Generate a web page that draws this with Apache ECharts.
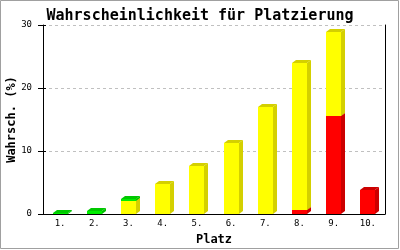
<!DOCTYPE html>
<html><head><meta charset="utf-8">
<script src="https://cdn.jsdelivr.net/npm/echarts@6/dist/echarts.min.js"></script>
<style>html,body{margin:0;padding:0;background:#fff}#c{width:400px;height:250px}</style>
</head><body><div id="c"></div>
<script>
var categories = ['1.','2.','3.','4.','5.','6.','7.','8.','9.','10.'];
var redValues = [0,0,0,0,0,0,0,0.6,15.5,3.8];
var yellowValues = [0,0,2.1,4.8,7.6,11.3,17.0,23.4,13.4,0];
var greenValues = [0.15,0.5,0.3,0,0,0,0,0,0,0];
var yTicks = [0,10,20,30];

var stackOrder = [redValues, yellowValues, greenValues];
function buildData(k){
  return categories.map(function(c,i){
    var base = 0;
    for (var j=0;j<k;j++) base += stackOrder[j][i];
    return [i, base, stackOrder[k][i]];
  });
}
function makeRender(front, side, top){
  return function(params, api){
    var idx = api.value(0), base = api.value(1), val = api.value(2);
    if (!(val > 0)) return;
    var p0 = api.coord([idx, base]);
    var p1 = api.coord([idx, base + val]);
    var w = 15, dx = 4, dy = 3;
    var l = Math.round(p0[0] - w/2), r = l + w;
    var yb = Math.round(p0[1]), yt = Math.round(p1[1]);
    if (yb - yt < 1) yt = yb - 1;
    return {type:'group', children:[
      {type:'rect', shape:{x:l, y:yt, width:w, height:yb-yt}, style:{fill:front}},
      {type:'polygon', shape:{points:[[r,yb],[r+dx,yb-dy],[r+dx,yt-dy],[r,yt]]}, style:{fill:side}},
      {type:'polygon', shape:{points:[[l,yt],[l+dx,yt-dy],[r+dx,yt-dy],[r,yt]]}, style:{fill:top}}
    ]};
  };
}
var mono = 'DejaVu Sans Mono';
var chart = echarts.init(document.getElementById('c'), null, {renderer:'canvas'});
chart.setOption({
  animation:false,
  backgroundColor:'#fff',
  title:{text:'Wahrscheinlichkeit für Platzierung', left:'center', top:4,
    textStyle:{fontFamily:mono, fontWeight:'bold', fontSize:15, color:'#000'}},
  grid:{left:43, right:15, top:25, bottom:36, containLabel:false, outerBoundsMode:'none'},
  xAxis:{type:'category', data:categories, boundaryGap:true,
    name:'Platz', nameLocation:'middle', nameGap:20, nameMoveOverlap:false,
    nameTextStyle:{fontFamily:mono, fontWeight:'bold', fontSize:12, color:'#000'},
    axisLine:{lineStyle:{color:'#000', width:1}}, axisTick:{show:false},
    axisLabel:{fontFamily:mono, fontSize:9, color:'#000', margin:5, interval:0}},
  yAxis:[{type:'value', min:yTicks[0], max:yTicks[yTicks.length-1], interval:10,
    name:'Wahrsch. (%)', nameLocation:'middle', nameGap:25, nameMoveOverlap:false,
    nameTextStyle:{fontFamily:mono, fontWeight:'bold', fontSize:12, color:'#000'},
    axisLine:{show:true, lineStyle:{color:'#000', width:1}},
    axisTick:{show:true, length:5, lineStyle:{color:'#000'}},
    axisLabel:{fontFamily:mono, fontSize:9, color:'#000', margin:11},
    splitLine:{show:true, lineStyle:{color:'#c0c0c0', type:[3,3], width:1}}},
   {type:'value', min:yTicks[0], max:yTicks[yTicks.length-1], interval:10, position:'left', offset:0,
    axisLine:{show:false}, axisTick:{show:true, inside:true, length:3, lineStyle:{color:'#000'}},
    axisLabel:{show:false}, splitLine:{show:false}},
   {type:'value', min:yTicks[0], max:yTicks[yTicks.length-1], interval:10, position:'right', offset:0,
    axisLine:{show:true, lineStyle:{color:'#000', width:1}}, axisTick:{show:false},
    axisLabel:{show:false}, splitLine:{show:false}}
  ],
  graphic:[{type:'rect', shape:{x:0.5, y:0.5, width:398, height:248},
    style:{fill:null, stroke:'#a0a0a0', lineWidth:1}, z:100}],
  series:[
    {type:'custom', name:'rot', data:buildData(0), encode:{x:0,y:1}, renderItem:makeRender('#ff0000','#cc0000','#cc0000'), z:2},
    {type:'custom', name:'gelb', data:buildData(1), encode:{x:0,y:1}, renderItem:makeRender('#ffff00','#d4d000','#d4d000'), z:3},
    {type:'custom', name:'grün', data:buildData(2), encode:{x:0,y:1}, renderItem:makeRender('#00ee00','#00c000','#00c800'), z:4}
  ]
});
</script></body></html>
